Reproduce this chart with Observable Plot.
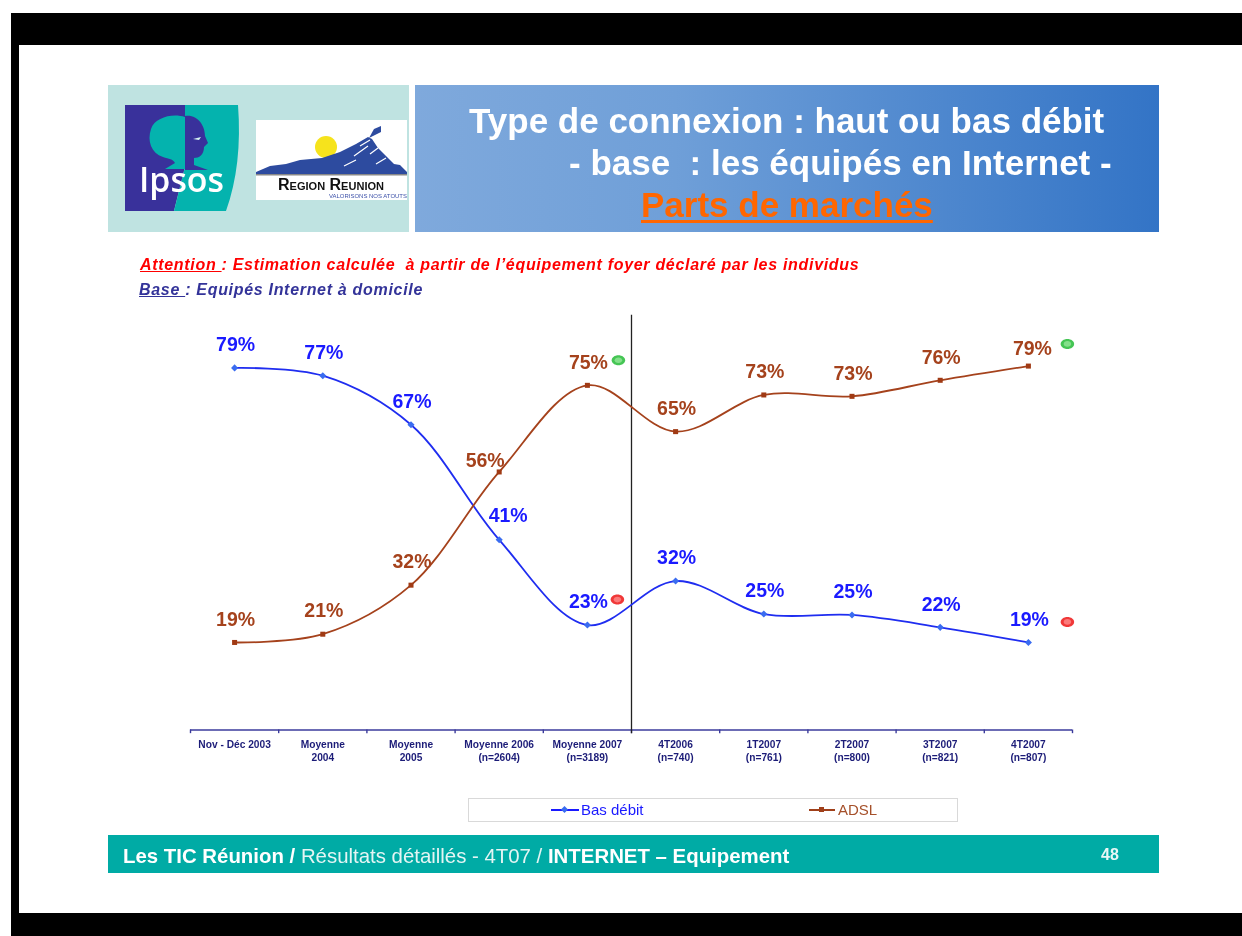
<!DOCTYPE html>
<html lang="fr">
<head>
<meta charset="utf-8">
<title>Type de connexion</title>
<script src="https://cdn.jsdelivr.net/npm/d3@7"></script>
<script src="https://cdn.jsdelivr.net/npm/@observablehq/plot@0.6"></script>
<style>
html,body{margin:0;padding:0;background:#fff;overflow:hidden}
#page{position:relative;width:1242px;height:936px;background:#fff;font-family:"Liberation Sans",Arial,sans-serif;overflow:hidden;filter:blur(0.45px)}
#page>*{position:absolute}
.blk{background:#000}
.t{white-space:pre;line-height:1;font-weight:bold}
#chart{left:0;top:0}
#chart svg{display:block;background:transparent}
</style>
</head>
<body>
<div id="page">
  <div class="blk" style="left:11px;top:13px;width:1231px;height:32px"></div>
  <div class="blk" style="left:11px;top:13px;width:8px;height:923px"></div>
  <div class="blk" style="left:11px;top:913px;width:1231px;height:23px"></div>

  <div style="left:108px;top:85px;width:301px;height:147px;background:#bfe3e1"></div>
  <div style="left:415px;top:85px;width:744px;height:147px;background:linear-gradient(90deg,#7fa9dc 0%,#6f9fd8 35%,#3374c6 100%)"></div>

  <svg style="left:125px;top:105px" width="116" height="107" viewBox="0 0 116 107">
    <path d="M0 0H60V62L49 106H0Z" fill="#39319b"/>
    <path d="M60 0H113C116 40 112 75 101 106H49L60 62Z" fill="#04b3ae"/>
    <path d="M60 12C48 8 30 12 26 24C22 36 26 48 38 52C44 54 48 54 50 58L40 64H60Z" fill="#04b3ae"/>
    <path d="M60 11C72 9 80 20 80 31L83 38L79 42C79 50 74 53 69 53L69 60L83 65H60Z" fill="#39319b"/>
    <path d="M68 34L76 32L74 35Z" fill="#d6f4f2"/>
    <text x="14" y="87" font-family="'Open Sans',sans-serif" font-weight="600" font-size="34" fill="#fff" textLength="85" lengthAdjust="spacingAndGlyphs">Ipsos</text>
  </svg>

  <svg style="left:256px;top:120px" width="151" height="80" viewBox="0 0 151 80">
    <rect width="151" height="80" fill="#fff"/>
    <circle cx="70" cy="27" r="11" fill="#f6e31c"/>
    <path d="M0 52L14 46L30 44L44 40L66 38L84 32L100 24L112 17L116 19L122 28L130 36L138 44L144 45L151 52V54H0Z" fill="#2d4b9f"/>
    <path d="M113 18L118 9L125 6L125 12L119 15Z" fill="#2d4b9f"/>
    <path d="M104 26L114 20M98 36L112 26M114 34L122 28M88 46L100 40M120 44L130 38" stroke="#fff" stroke-width="1.2" fill="none"/>
    <rect y="54" width="151" height="1.5" fill="#888"/>
    <text x="22" y="70" font-family="'Liberation Sans',sans-serif" font-weight="bold" font-size="16" style="font-variant:small-caps" fill="#111" textLength="106" lengthAdjust="spacingAndGlyphs">Region Reunion</text>
    <text x="73" y="78" font-family="'Liberation Sans',sans-serif" font-size="6" fill="#3c50a8" textLength="78" lengthAdjust="spacingAndGlyphs">VALORISONS NOS ATOUTS</text>
  </svg>

  <div class="t" style="left:469px;top:103px;font-size:35px;color:#fff">Type de connexion : haut ou bas débit</div>
  <div class="t" style="left:569px;top:145px;font-size:35px;color:#fff">- base  : les équipés en Internet -</div>
  <div class="t" style="left:641px;top:187px;font-size:35px;color:#ff6600;text-decoration:underline;text-decoration-thickness:3px;text-underline-offset:3px">Parts de marchés</div>

  <div class="t" style="left:140px;top:257px;font-size:16px;letter-spacing:0.69px;font-style:italic;color:#ff0000"><u>Attention </u>: Estimation calculée  à partir de l’équipement foyer déclaré par les individus</div>
  <div class="t" style="left:139px;top:282px;font-size:16px;letter-spacing:0.69px;font-style:italic;color:#333399"><u>Base </u>: Equipés Internet à domicile</div>

  <div style="left:468px;top:798px;width:488px;height:22px;border:1px solid #d9d9d9;background:#fff"></div>
  <div style="left:551px;top:808.5px;width:28px;height:2px;background:#1a1aff"></div>
  <div style="left:562px;top:807px;width:5px;height:5px;background:#3a6cf0;transform:rotate(45deg)"></div>
  <div class="t" style="left:581px;top:802px;font-size:15px;font-weight:normal;color:#1a1aff">Bas débit</div>
  <div style="left:809px;top:808.5px;width:26px;height:2px;background:#a0401a"></div>
  <div style="left:819px;top:807px;width:5px;height:5px;background:#a0401a"></div>
  <div class="t" style="left:838px;top:802px;font-size:15px;font-weight:normal;color:#a5502a">ADSL</div>

  <div style="left:108px;top:835px;width:1051px;height:38px;background:#00aba5"></div>
  <div class="t" style="left:123px;top:846px;font-size:20.4px;color:#fff">Les TIC Réunion / <span style="font-weight:normal;color:#e4f5f4">Résultats détaillés - 4T07 / </span>INTERNET – Equipement</div>
  <div class="t" style="left:1101px;top:847px;font-size:16px;color:#e8f7f6">48</div>

  <div id="chart"></div>
</div>
<script>
const categories = ["Nov - Déc 2003","Moyenne\n2004","Moyenne\n2005","Moyenne 2006\n(n=2604)","Moyenne 2007\n(n=3189)","4T2006\n(n=740)","1T2007\n(n=761)","2T2007\n(n=800)","3T2007\n(n=821)","4T2007\n(n=807)"];
const basDebit = [79,77,67,41,23,32,25,25,22,19];
const adsl = [19,21,32,56,75,65,73,73,76,79];
const basDebitPlotted = [79,77.3,66.6,41.5,22.9,32.5,25.3,25.1,22.4,19.1];
const adslPlotted = [19.1,20.9,31.6,56.3,75.2,65.1,73.1,72.8,76.3,79.4];
const greenFlags = [{cat:categories[4],v:adsl[4]},{cat:categories[9],v:adsl[9]}];
const redFlags = [{cat:categories[4],v:basDebit[4]},{cat:categories[9],v:basDebit[9]}];

const blue = "#1f2df0", blueText = "#1a1aff", brown = "#a5421c", navy = "#3b3b9c";
const rows = (plotted, labels) => categories.map((c,i)=>({c, y:plotted[i], label:labels[i]+"%", i}));
const blueRows = rows(basDebitPlotted, basDebit);
const brownRows = rows(adslPlotted, adsl);
const step = 88.2;
const labelFont = {fontSize:19.5, fontWeight:"bold", fontFamily:"Liberation Sans, Arial, sans-serif"};
const ellipse = {draw(ctx,size){
  const r=Math.sqrt(size/Math.PI), a=r*1.35, b=r, k=0.5523;
  ctx.moveTo(a,0);
  ctx.bezierCurveTo(a,k*b,k*a,b,0,b);
  ctx.bezierCurveTo(-k*a,b,-a,k*b,-a,0);
  ctx.bezierCurveTo(-a,-k*b,-k*a,-b,0,-b);
  ctx.bezierCurveTo(k*a,-b,a,-k*b,a,0);
  ctx.closePath();
}};
const flag = (rowsF, fill, inner, sel, dx, dy) => [
  Plot.dot(rowsF.filter(sel),{x:"cat",y:"v",r:5,symbol:ellipse,fill,stroke:"none",dx,dy}),
  Plot.dot(rowsF.filter(sel),{x:"cat",y:"v",r:2.8,symbol:ellipse,fill:inner,stroke:"none",dx,dy})
];

const chart = Plot.plot({
  width:1242, height:936,
  marginLeft:190, marginRight:170, marginTop:317, marginBottom:206.5,
  style:{background:"transparent",overflow:"visible"},
  x:{type:"point",padding:0.5,round:false,domain:categories,label:null},
  y:{domain:[0,90],axis:null,label:null},
  marks:[
    Plot.ruleY([0],{stroke:navy,strokeWidth:1.6}),
    Plot.ruleX(categories,{x:d=>d,y1:0,y2:-0.8,stroke:navy,strokeWidth:1.4,dx:-step/2}),
    Plot.ruleX([categories[9]],{x:d=>d,y1:0,y2:-0.8,stroke:navy,strokeWidth:1.4,dx:step/2}),
    Plot.axisX({anchor:"bottom",tickSize:0,tickPadding:8,fontSize:10.2,fontWeight:"bold",fill:"#1c1c78",lineHeight:1.32,label:null,fontFamily:"Liberation Sans, Arial, sans-serif"}),
    Plot.ruleX([categories[4]],{x:d=>d,y1:-0.8,y2:90.5,stroke:"#222",strokeWidth:1.3,dx:step/2}),
    Plot.line(blueRows,{x:"c",y:"y",curve:"catmull-rom",stroke:blue,strokeWidth:1.8}),
    Plot.line(brownRows,{x:"c",y:"y",curve:"catmull-rom",stroke:brown,strokeWidth:1.8}),
    Plot.dot(blueRows,{x:"c",y:"y",symbol:"diamond2",r:3.2,fill:"#3a6cf0",stroke:"none"}),
    Plot.dot(brownRows,{x:"c",y:"y",symbol:"square2",r:3.2,fill:"#a03a14",stroke:"none"}),
    Plot.text(blueRows.filter(d=>d.i!==3),{x:"c",y:"y",text:"label",fill:blueText,dx:1,dy:-23,...labelFont}),
    Plot.text(blueRows.filter(d=>d.i===3),{x:"c",y:"y",text:"label",fill:blueText,dx:9,dy:-24,...labelFont}),
    Plot.text(brownRows.filter(d=>d.i!==3&&d.i!==9),{x:"c",y:"y",text:"label",fill:brown,dx:1,dy:-23,...labelFont}),
    Plot.text(brownRows.filter(d=>d.i===3),{x:"c",y:"y",text:"label",fill:brown,dx:-14,dy:-11,...labelFont}),
    Plot.text(brownRows.filter(d=>d.i===9),{x:"c",y:"y",text:"label",fill:brown,dx:4,dy:-17,...labelFont}),
    ...flag(greenFlags,"#45c554","#84e08a",d=>d.cat===categories[4],31,-26),
    ...flag(greenFlags,"#45c554","#84e08a",d=>d.cat===categories[9],39,-24),
    ...flag(redFlags,"#f03838","#fb7a7a",d=>d.cat===categories[4],30,-25),
    ...flag(redFlags,"#f03838","#fb7a7a",d=>d.cat===categories[9],39,-21)
  ]
});
document.getElementById("chart").appendChild(chart);
</script>
</body>
</html>
